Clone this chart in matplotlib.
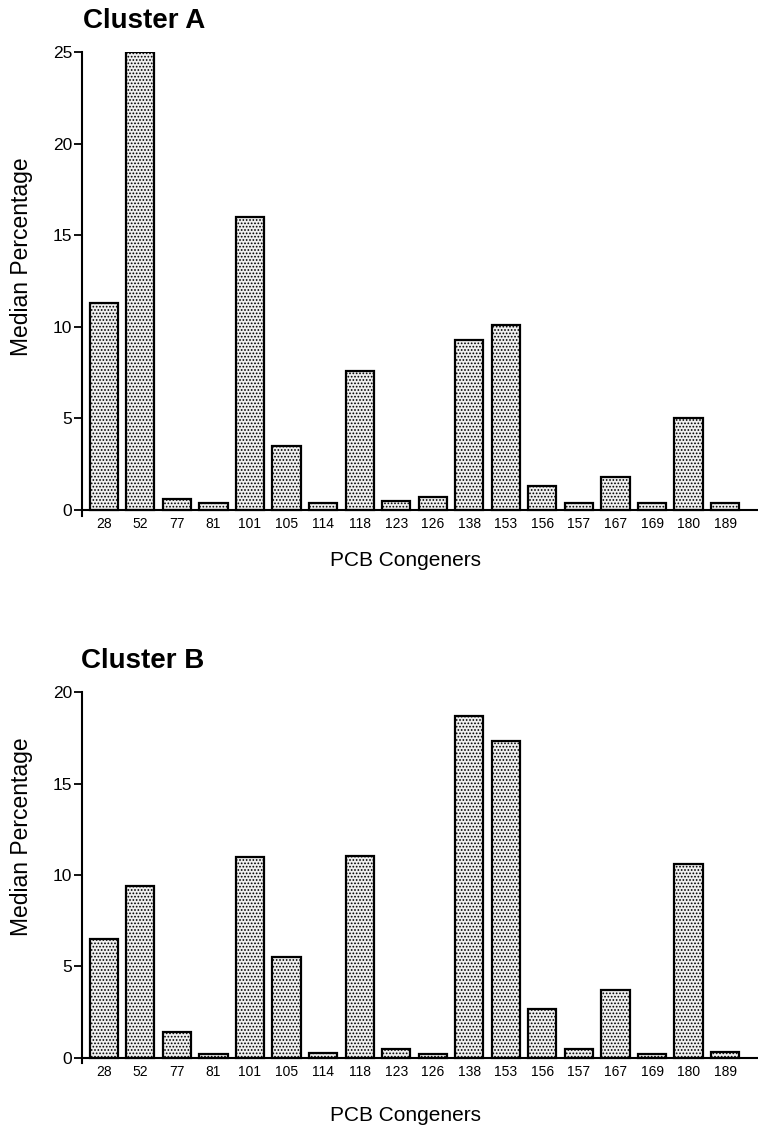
import matplotlib.pyplot as plt

plt.rcParams['font.family'] = ['Liberation Sans', 'DejaVu Sans']
plt.rcParams['hatch.color'] = '#444444'
plt.rcParams['hatch.linewidth'] = 0.8

# PCB-Kongenere und Medianwerte je Cluster
congeners = ["28", "52", "77", "81", "101", "105", "114", "118", "123",
             "126", "138", "153", "156", "157", "167", "169", "180", "189"]
cluster_a = [11.3, 25.0, 0.6, 0.4, 16.0, 3.5, 0.4, 7.6, 0.5,
             0.7, 9.3, 10.1, 1.3, 0.4, 1.8, 0.4, 5.0, 0.4]
cluster_b = [6.5, 9.4, 1.4, 0.2, 11.0, 5.5, 0.25, 11.05, 0.5,
             0.2, 18.7, 17.3, 2.7, 0.5, 3.7, 0.2, 10.6, 0.3]

fig = plt.figure(figsize=(7.58, 11.33), dpi=100)

ax1 = fig.add_axes([0.108, 0.5442, 0.892, 0.4099])
ax2 = fig.add_axes([0.108, 0.0617, 0.892, 0.3275])


def draw(ax, werte, ymax, ticks):
    x = range(len(congeners))
    ax.bar(x, werte, width=0.77, color='#f0f0f0', edgecolor='black',
           linewidth=1.6, hatch='.....')
    ax.set_xlim(-0.6, 17.9)
    ax.set_ylim(-0.35 * ymax / 25, ymax)
    ax.set_yticks(ticks)
    ax.set_xticks(list(x))
    ax.set_xticklabels(congeners, fontsize=11.5)
    ax.tick_params(axis='x', length=0, pad=5)
    ax.tick_params(axis='y', length=6, width=1.3, labelsize=12.5, pad=1)
    ax.spines['top'].set_visible(False)
    ax.spines['right'].set_visible(False)
    ax.spines['bottom'].set_position(('data', 0))
    ax.spines['left'].set_linewidth(1.5)
    ax.spines['bottom'].set_linewidth(1.5)
    ax.set_ylabel("Median Percentage", fontsize=16.5)
    ax.set_xlabel("PCB Congeners", fontsize=15)


draw(ax1, cluster_a, 25, [0, 5, 10, 15, 20, 25])
draw(ax2, cluster_b, 20, [0, 5, 10, 15, 20])

ax1.yaxis.set_label_coords(-0.072, 0.559)
ax2.yaxis.set_label_coords(-0.072, 0.609)
ax1.xaxis.set_label_coords(0.479, -0.075)
ax2.xaxis.set_label_coords(0.479, -0.116)

fig.text(83 / 758, 1 - 28 / 1133, "Cluster A", fontsize=20,
         fontweight='bold', ha='left', va='baseline')
fig.text(81 / 758, 1 - 668 / 1133, "Cluster B", fontsize=20,
         fontweight='bold', ha='left', va='baseline')

fig.savefig("out.png", dpi=100)
